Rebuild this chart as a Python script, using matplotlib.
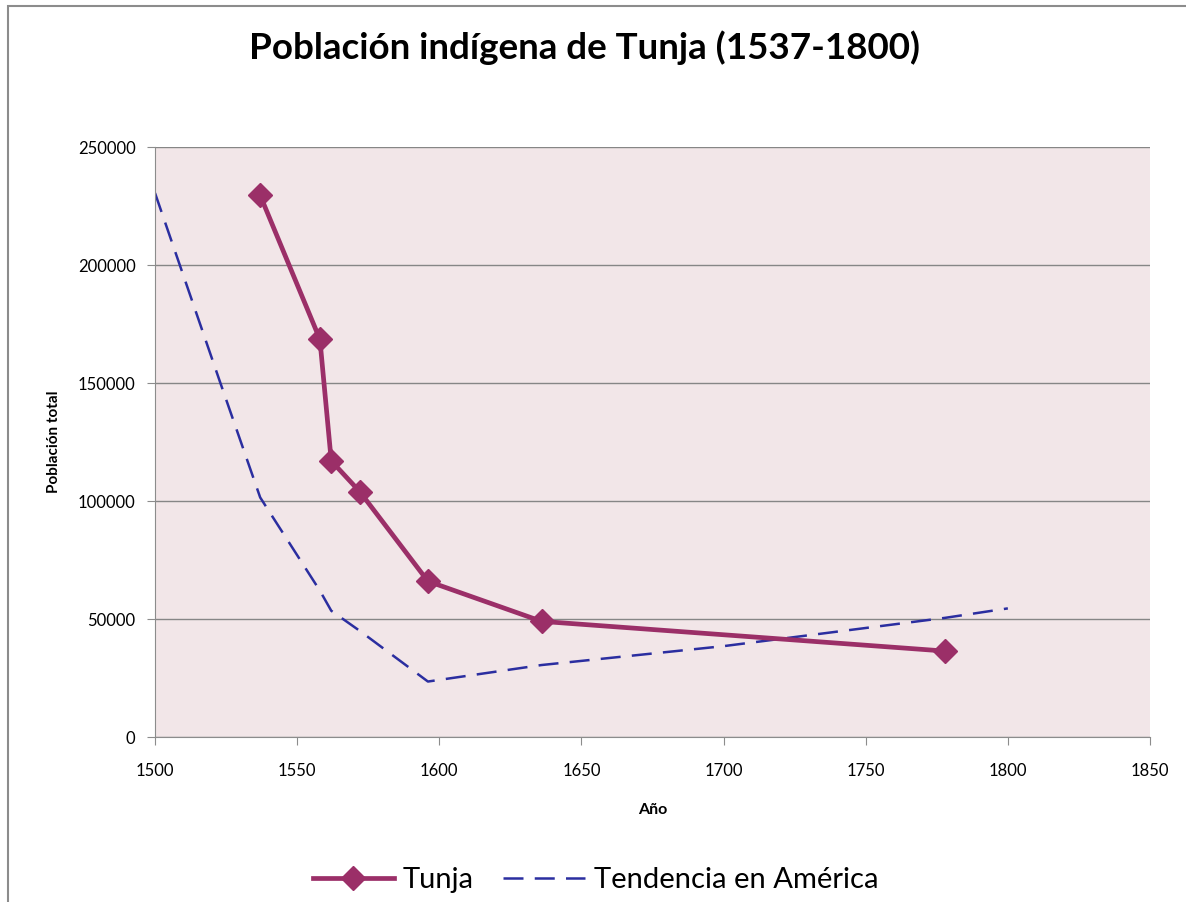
import matplotlib.pyplot as plt
from matplotlib.patches import Rectangle

plt.rcParams['font.family'] = ['Lato', 'DejaVu Sans']

# datos
anios_tunja = [1537, 1558, 1562, 1572, 1596, 1636, 1778]
pob_tunja = [229500, 168500, 117000, 104000, 66000, 49000, 36400]

anios_america = [1500, 1523, 1537, 1558, 1562, 1572, 1596, 1636, 1700, 1778, 1800]
pob_america = [230500, 150000, 101500, 62000, 53500, 45000, 23500, 30500, 38500, 50500, 54500]

x_ticks = [1500, 1550, 1600, 1650, 1700, 1750, 1800, 1850]
y_ticks = [0, 50000, 100000, 150000, 200000, 250000]

fig = plt.figure(figsize=(11.86, 9.02), dpi=100)
fig.patch.set_facecolor('white')

# marco del grafico
fig.patches.append(Rectangle((8 / 1186, -0.01), 1.1, 1 - 6 / 902 + 0.01,
                             transform=fig.transFigure, fill=False,
                             edgecolor='#8c8c8c', linewidth=1.5))

ax = fig.add_axes([155 / 1186, 1 - 737 / 902, 995 / 1186, 590 / 902])
ax.set_facecolor('#f2e6e8')

ax.plot(anios_tunja, pob_tunja, color='#9b2f68', linewidth=3.4,
        marker='D', markersize=12, label='Tunja', zorder=3)
ax.plot(anios_america, pob_america, color='#2b2ea0', linewidth=1.8,
        dashes=(8, 4.5), label='Tendencia en América', zorder=2)

ax.set_xlim(1500, 1850)
ax.set_ylim(0, 250000)
ax.set_xticks(x_ticks)
ax.set_yticks(y_ticks)
ax.set_xticklabels([str(t) for t in x_ticks], fontsize=12)
ax.set_yticklabels([str(t) for t in y_ticks], fontsize=12)
ax.tick_params(axis='both', direction='out', length=6, color='#8c8c8c', pad=8)
ax.tick_params(axis='x', pad=13)

ax.grid(axis='y', color='#868686', linewidth=1)
ax.set_axisbelow(True)
for s in ['top', 'right']:
    ax.spines[s].set_visible(False)
for s in ['left', 'bottom']:
    ax.spines[s].set_color('#8c8c8c')

ax.set_xlabel('Año', fontsize=11.5, fontweight='bold', labelpad=17)
ax.set_ylabel('Población total', fontsize=11, fontweight='bold', labelpad=12)

fig.text(0.493, 1 - 48 / 902, 'Población indígena de Tunja (1537-1800)',
         ha='center', va='center', fontsize=26.5, fontweight='bold')

fig.legend(loc='center', bbox_to_anchor=(0.502, 1 - 880 / 902), ncol=2,
           frameon=False, fontsize=21, handlelength=2.8, handletextpad=0.3,
           columnspacing=1.0)

fig.savefig('out.png', dpi=100)
